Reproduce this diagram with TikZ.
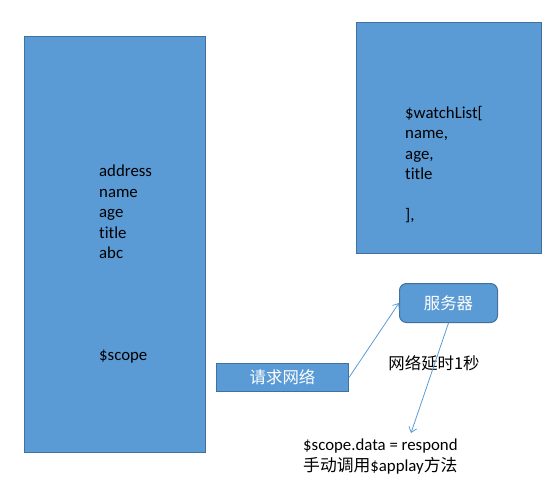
\documentclass[tikz,border=0pt]{standalone}
\usepackage{fontspec}
\setmainfont{Carlito}[Ligatures=NoCommon]
\newfontfamily\cjk{Noto Sans CJK SC}
\usetikzlibrary{arrows.meta, positioning}
\definecolor{boxblue}{HTML}{5B9BD5}
\definecolor{boxline}{HTML}{41719C}

\begin{document}
\begin{tikzpicture}[
            x=1pt, y=-1pt,
            panel/.style={rectangle, draw=boxline, fill=boxblue, line width=1pt, inner sep=0pt, anchor=north west},
            server/.style={panel, rounded corners=7pt, text=white, font=\cjk\fontsize{16.4}{20}\selectfont},
            request/.style={panel, text=white, font=\cjk\fontsize{16.4}{20}\selectfont},
            fields/.style={align=left, inner sep=0pt, font=\fontsize{16.8}{20.5}\selectfont},
            note/.style={align=left, inner sep=0pt, font=\fontsize{16.8}{21}\selectfont},
            flow/.style={draw=boxblue, line width=0.8pt, -{Straight Barb[length=5pt, width=8pt]}}
        ]
            \useasboundingbox (0,0) rectangle (560,480);
            % boxes
            \node[panel, minimum width=181pt, minimum height=416pt] (scope) at (24,36) {};
            \node[panel, minimum width=185pt, minimum height=231pt] (watch) at (356,22) {};
            \node[server, minimum width=98pt, minimum height=39pt] (server) at (399,283) {服务器};
            \node[request, minimum width=132pt, minimum height=28pt] (net) at (216,363) {请求网络};
            % texts
            \node[fields, anchor=north west] (scopefields) at (99,165) {address\\name\\age\\title\\abc};
            \node[fields, anchor=base west] (scopename) at (99,360) {\$scope};
            \node[fields, anchor=north west] (watchfields) at (405,106) {\$watchList[\\name,\\age,\\title\\ \\],};
            \node[font=\cjk\fontsize{16.4}{20}\selectfont, inner sep=0pt] (delay) at (434,363) {网络延时1秒};
            \node[note, anchor=north west] (reply) at (303,439) {\$scope.data = respond\\{\cjk 手动调用}\$applay{\cjk 方法}};
            \coordinate (replytip) at (411,433);
            % arrows
            \draw[flow] (net.east) -- (server.west);
            \draw[flow] (server.south) -- (replytip);
        \end{tikzpicture}
\end{document}
